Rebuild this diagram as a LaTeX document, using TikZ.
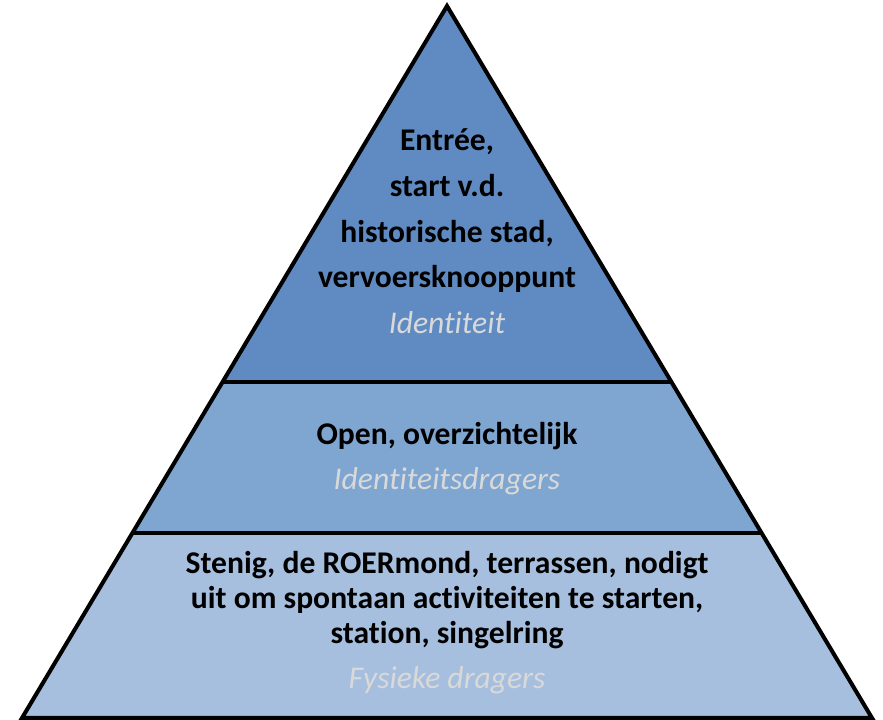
\documentclass[tikz,border=0pt]{standalone}
\usepackage{fontspec}
\setmainfont{Carlito}[Ligatures=NoCommon]
\usetikzlibrary{calc}
\begin{document}
\begin{tikzpicture}[
        x=0.02cm,
        y=-0.02cm,
        layer/.style={
            draw=black,
            line width=2.3pt,
            line join=miter
        },
        mainlabel/.style={
            align=center,
            font=\bfseries\fontsize{18}{20}\selectfont,
            text=black
        },
        sublabel/.style={
            align=center,
            font=\itshape\fontsize{18}{20}\selectfont,
            text=black!15
        }
    ]
        \useasboundingbox (0,0) rectangle (883,720);

        % Pyramid corners
        \coordinate (apex) at (447,6);
        \coordinate (bl) at (22,718);
        \coordinate (br) at (872,718);
        \coordinate (ml) at ($(apex)!0.528!(bl)$);
        \coordinate (mr) at ($(apex)!0.528!(br)$);
        \coordinate (ll) at ($(apex)!0.740!(bl)$);
        \coordinate (lr) at ($(apex)!0.740!(br)$);

        % Layers
        \fill[fill={rgb,255:red,95;green,139;blue,194}]
            (apex) -- (ml) -- (mr) -- cycle;
        \fill[fill={rgb,255:red,127;green,166;blue,208}]
            (ml) -- (ll) -- (lr) -- (mr) -- cycle;
        \fill[fill={rgb,255:red,166;green,191;blue,222}]
            (ll) -- (bl) -- (br) -- (lr) -- cycle;
        \draw[layer] (ml) -- (mr);
        \draw[layer] (ll) -- (lr);
        \draw[layer] (apex) -- (bl) -- (br) -- cycle;

        % Top layer
        \node[mainlabel] (identity) at (447,211)
            {Entrée,\\[6pt] start v.d.\\[6pt] historische stad,\\[6pt] vervoersknooppunt};
        \node[sublabel] (identitylbl) at (447,323) {Identiteit};

        % Middle layer
        \node[mainlabel] (carriers) at (447,436) {Open, overzichtelijk};
        \node[sublabel] (carrierslbl) at (447,481) {Identiteitsdragers};

        % Bottom layer
        \node[mainlabel] (physical) at (447,600)
            {Stenig, de ROERmond, terrassen, nodigt\\ uit om spontaan activiteiten te starten,\\ station, singelring};
        \node[sublabel] (physicallbl) at (447,680) {Fysieke dragers};

    \end{tikzpicture}
\end{document}
